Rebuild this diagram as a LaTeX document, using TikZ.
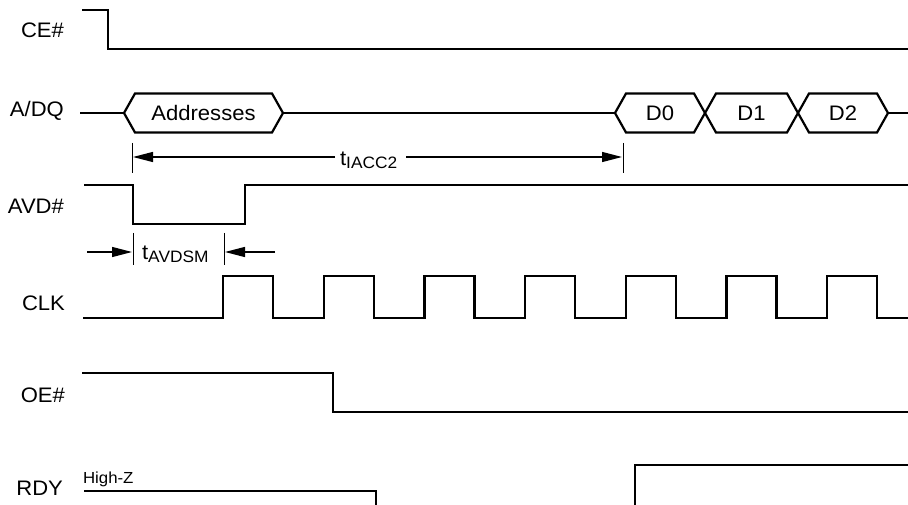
\documentclass[tikz,border=0pt]{standalone}
\usepackage{fontspec}
\setmainfont{Liberation Sans}[FakeStretch=1.05]
\usetikzlibrary{arrows.meta}

\newcommand{\tsub}[2]{#1\raisebox{-3pt}{\fontsize{16.5}{18}\selectfont #2}}

\begin{document}
\begin{tikzpicture}[x=1pt,y=-1pt,line width=2.2pt,
    sig/.style={font=\fontsize{21}{24}\selectfont,anchor=base east,inner sep=0pt},
    bus/.style={font=\fontsize{21}{24}\selectfont,anchor=base,inner sep=0pt},
    tlabel/.style={font=\fontsize{21}{24}\selectfont,anchor=base west,inner sep=0pt},
    dim/.style={line width=1.3pt,-{Triangle[length=20pt,width=10pt]}},
    marker/.style={line width=0.9pt}]
  \useasboundingbox (0,0) rectangle (908,505);

  %signal names
  \node[sig] (ce)  at (65,38)  {CE\#};
  \node[sig] (adq) at (65,117) {A/DQ};
  \node[sig] (avd) at (65,214) {AVD\#};
  \node[sig] (clk) at (66,310) {CLK};
  \node[sig] (oe)  at (66,402) {OE\#};
  \node[sig] (rdy) at (64,495) {RDY};

  %CE#
  \draw (82,10) -- (108,10) -- (108,49) -- (908,49);

  %A/DQ bus
  \draw (80,113) -- (124,113);
  \draw (283,113) -- (615,113);
  \draw (888,113) -- (908,113);
  \foreach \l/\r/\t/\n in {124/283/Addresses/addr,615/705/D0/dzero,705/798/D1/done,798/888/D2/dtwo}{
    \draw (\l,113) -- (\l+11,93.5) -- (\r-11,93.5) -- (\r,113) -- (\r-11,132.5) -- (\l+11,132.5) -- cycle;
    \node[bus] (\n) at ({(\l+\r)/2},120.5) {\t};
  }

  %tIACC2
  \draw[marker] (132,143) -- (132,173);
  \draw[marker] (623,143) -- (623,173);
  \coordinate (iaccl) at (133,157);
  \coordinate (iaccr) at (622,157);
  \node[tlabel] (iacc) at (339,166) {\tsub{t}{IACC2}};
  \draw[dim] (iacc.west |- iaccl) ++(-4,0) coordinate (iaccw) -- (iaccl);
  \draw[dim] (iacc.east |- iaccr) ++(8,0) coordinate (iacce) -- (iaccr);

  %AVD#
  \draw (84,185) -- (133,185) -- (133,224) -- (245,224) -- (245,185) -- (908,185);

  %tAVDSM
  \draw[marker] (133,233) -- (133,265);
  \draw[marker] (224,233) -- (224,265);
  \coordinate (avdsl) at (87,252);
  \coordinate (avdsr) at (275,252);
  \coordinate (avdst) at (132,252);
  \coordinate (avdsu) at (225,252);
  \draw[dim] (avdsl) -- (avdst);
  \draw[dim] (avdsr) -- (avdsu);
  \node[tlabel] (avdsm) at (141,260) {\tsub{t}{AVDSM}};

  %CLK
  \draw (83,318) -- (223,318)
    \foreach \i in {0,...,5}{ -- ++(0,-42) -- ++(50,0) -- ++(0,42) -- ++(50.7,0)}
    -- ++(0,-42) -- ++(50,0) -- ++(0,42) -- (908,318);

  %OE#
  \draw (82,373) -- (333,373) -- (333,412) -- (908,412);

  %RDY
  \node[tlabel,font=\fontsize{16}{18}\selectfont] (hiz) at (82,483) {High-Z};
  \draw (84,491) -- (376,491) -- (376,505);
  \draw (635,505) -- (635,465) -- (908,465);
\end{tikzpicture}
\end{document}
